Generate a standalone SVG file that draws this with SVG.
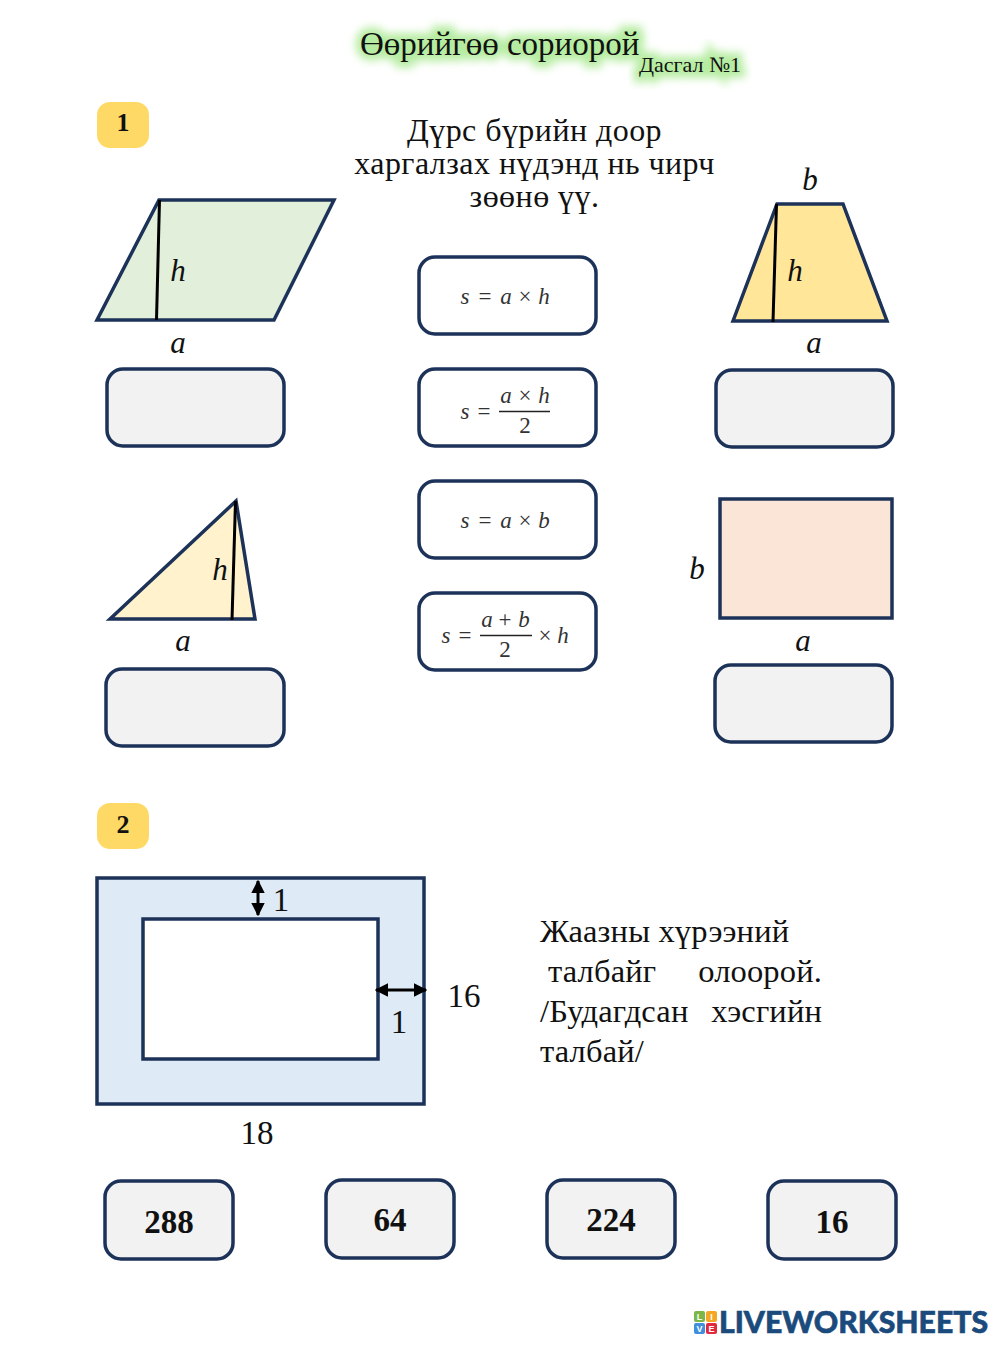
<svg xmlns="http://www.w3.org/2000/svg" width="1000" height="1346" viewBox="0 0 1000 1346">
<style>
text{font-family:"Liberation Serif","Times New Roman",serif;fill:#111}
.box{fill:#f2f2f2;stroke:#1c3258;stroke-width:3.5}
.fbox{fill:#fff;stroke:#1c3258;stroke-width:3.5}
.shape{stroke:#1c3258;stroke-width:3.5}
.h{stroke:#000;stroke-width:3;fill:none}
.v{font-style:italic;font-size:31px;text-anchor:middle}
.f{font-style:italic;font-size:23px;fill:#333;text-anchor:middle}
.fn{font-size:23px;fill:#333;text-anchor:middle}
.body{font-size:32.500px;letter-spacing:.15px}
.ins{font-size:32px;letter-spacing:.45px;text-anchor:middle}
.badge{fill:#ffd966}
.bt{font-size:26px;font-weight:bold;text-anchor:middle}
.num{font-size:33px;font-weight:bold;text-anchor:middle}
.dim{font-size:33px;text-anchor:middle}
.bar{stroke:#222;stroke-width:1.5}
.glow{fill:#b5eca0;stroke:#b5eca0;stroke-width:11;filter:url(#blur)}
.ic{font-family:"Liberation Sans",sans-serif;font-size:9px;font-weight:bold;fill:#fff;text-anchor:middle}
</style>
<defs>
<filter id="blur" x="-10%" y="-50%" width="120%" height="200%"><feGaussianBlur stdDeviation="4"/></filter>
<marker id="ah" viewBox="0 0 10 10" refX="9" refY="5" markerWidth="4.500" markerHeight="5" orient="auto-start-reverse"><path d="M0 0L10 5L0 10Z" fill="#000"/></marker>
</defs>
<rect width="1000" height="1346" fill="#fff"/>

<g id="title">
<text class="glow" x="360" y="55" font-size="33">Өөрийгөө сориорой</text>
<text class="glow" x="639" y="72" font-size="22">Дасгал №1</text>
<text x="360" y="55" font-size="33">Өөрийгөө сориорой</text>
<text x="639" y="72" font-size="22">Дасгал №1</text>
</g>

<g id="badge1"><rect class="badge" x="97" y="102" width="52" height="46" rx="13"/><text class="bt" x="123" y="131">1</text></g>
<g id="instruction">
<text class="ins" x="534.500" y="141">Дүрс бүрийн доор</text>
<text class="ins" x="534.500" y="174">харгалзах нүдэнд нь чирч</text>
<text class="ins" x="534.500" y="207">зөөнө үү.</text>
</g>

<g id="parallelogram">
<path class="shape" d="M97 320L159 200H334L274 320Z" fill="#e2efda"/>
<line class="h" x1="159.500" y1="200" x2="156.500" y2="320"/>
<text class="v" x="178" y="281">h</text>
<text class="v" x="178" y="353">a</text>
</g>
<g id="answer1"><rect class="box" x="107" y="369" width="177" height="77" rx="16"/></g>

<g id="trapezoid">
<path class="shape" d="M733 321L777 204H843L887 321Z" fill="#ffe699"/>
<line class="h" x1="776.500" y1="204" x2="773" y2="322"/>
<text class="v" x="810" y="190">b</text>
<text class="v" x="795" y="281">h</text>
<text class="v" x="814" y="353">a</text>
</g>
<g id="answer2"><rect class="box" x="716" y="370" width="177" height="77" rx="16"/></g>

<g id="triangle">
<path class="shape" d="M110 619L236 501L255 619Z" fill="#fff2cc"/>
<line class="h" x1="235.500" y1="501" x2="232" y2="620"/>
<text class="v" x="220" y="580">h</text>
<text class="v" x="183" y="651">a</text>
</g>
<g id="answer3"><rect class="box" x="106" y="669" width="178" height="77" rx="16"/></g>

<g id="rectangle">
<rect class="shape" x="720" y="499" width="172" height="119" fill="#fbe5d6"/>
<text class="v" x="697" y="579">b</text>
<text class="v" x="803" y="651">a</text>
</g>
<g id="answer4"><rect class="box" x="715" y="665" width="177" height="77" rx="16"/></g>

<g id="formula1"><rect class="fbox" x="419" y="257" width="177" height="77" rx="16"/>
<text class="f" x="465" y="304">s</text><text class="fn" x="485" y="304">=</text><text class="f" x="506" y="304">a</text><text class="fn" x="525" y="304">×</text><text class="f" x="544" y="304">h</text></g>
<g id="formula2"><rect class="fbox" x="419" y="369" width="177" height="77" rx="16"/>
<text class="f" x="465" y="419">s</text><text class="fn" x="484" y="419">=</text>
<text class="f" x="506" y="403">a</text><text class="fn" x="525" y="403">×</text><text class="f" x="544" y="403">h</text>
<line class="bar" x1="499" y1="411.500" x2="550" y2="411.500"/><text class="fn" x="525" y="433">2</text></g>
<g id="formula3"><rect class="fbox" x="419" y="481" width="177" height="77" rx="16"/>
<text class="f" x="465" y="528">s</text><text class="fn" x="485" y="528">=</text><text class="f" x="506" y="528">a</text><text class="fn" x="525" y="528">×</text><text class="f" x="544" y="528">b</text></g>
<g id="formula4"><rect class="fbox" x="419" y="593" width="177" height="77" rx="16"/>
<text class="f" x="446" y="643">s</text><text class="fn" x="465" y="643">=</text>
<text class="f" x="487" y="627">a</text><text class="fn" x="505" y="627">+</text><text class="f" x="524" y="627">b</text>
<line class="bar" x1="480" y1="635.500" x2="532" y2="635.500"/><text class="fn" x="505" y="657">2</text>
<text class="fn" x="545" y="643">×</text><text class="f" x="563" y="643">h</text></g>

<g id="badge2"><rect class="badge" x="97" y="803" width="52" height="46" rx="13"/><text class="bt" x="123" y="833">2</text></g>

<g id="frame">
<rect class="shape" x="97" y="878" width="327" height="226" fill="#deebf7"/>
<rect class="shape" x="143" y="919" width="235" height="140" fill="#fff"/>
<text class="dim" x="281" y="911">1</text>
<text class="dim" x="464" y="1007">16</text>
<text class="dim" x="399" y="1033">1</text>
<text class="dim" x="257" y="1144">18</text>
</g>
<g id="connectors">
<line class="h" x1="258" y1="881" x2="258" y2="915" marker-start="url(#ah)" marker-end="url(#ah)"/>
<line class="h" x1="376" y1="990" x2="426" y2="990" marker-start="url(#ah)" marker-end="url(#ah)"/>
</g>

<g id="problem">
<text class="body" x="540" y="942">Жаазны хүрээний</text>
<text class="body" x="548" y="982">талбайг</text><text class="body" x="822" y="982" text-anchor="end">олоорой.</text>
<text class="body" x="540" y="1022">/Будагдсан</text><text class="body" x="822" y="1022" text-anchor="end">хэсгийн</text>
<text class="body" x="540" y="1062">талбай/</text>
</g>

<g id="choice1"><rect class="box" x="105" y="1181" width="128" height="78" rx="16"/><text class="num" x="169" y="1233">288</text></g>
<g id="choice2"><rect class="box" x="326" y="1180" width="128" height="78" rx="16"/><text class="num" x="390" y="1231">64</text></g>
<g id="choice3"><rect class="box" x="547" y="1180" width="128" height="78" rx="16"/><text class="num" x="611" y="1231">224</text></g>
<g id="choice4"><rect class="box" x="768" y="1181" width="128" height="78" rx="16"/><text class="num" x="832" y="1233">16</text></g>

<g id="logo">
<rect x="694" y="1311" width="11" height="11" rx="2" fill="#7ab648"/><text class="ic" x="699.500" y="1320">L</text>
<rect x="706" y="1311" width="11" height="11" rx="2" fill="#f5a623"/><text class="ic" x="711.500" y="1320">I</text>
<rect x="694" y="1323" width="11" height="11" rx="2" fill="#3f8fdc"/><text class="ic" x="699.500" y="1332">V</text>
<rect x="706" y="1323" width="11" height="11" rx="2" fill="#e0283f"/><text class="ic" x="711.500" y="1332">E</text>
<text x="719" y="1333" textLength="269" lengthAdjust="spacingAndGlyphs" style="font-family:Lato,'Liberation Sans',sans-serif;font-weight:900;font-size:30px;fill:#1b4a7c;stroke:#1b4a7c;stroke-width:.6">LIVEWORKSHEETS</text>
</g>
</svg>
